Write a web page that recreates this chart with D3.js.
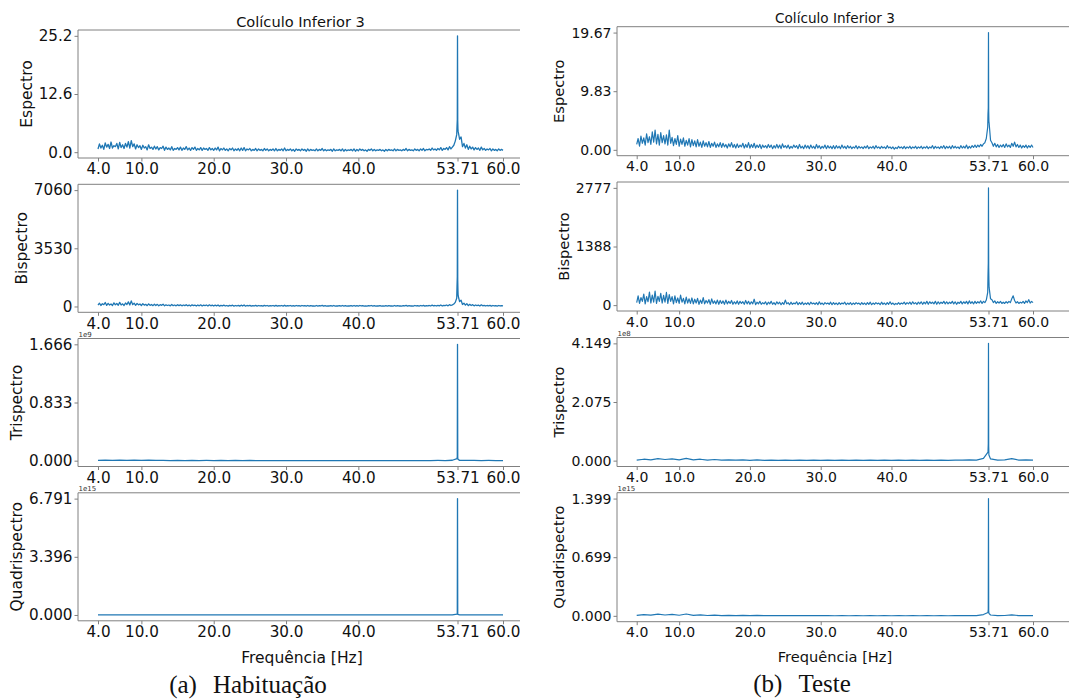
<!DOCTYPE html>
<html><head><meta charset="utf-8">
<script src="https://cdn.jsdelivr.net/npm/d3@7"></script>
<style>body{margin:0;background:#fff} svg{display:block}</style>
</head><body>
<svg id="chart" width="1069" height="700"></svg>
<script>
// ---------------- DATA ----------------
// Fine grid: 4.0 .. 60.0 Hz, step 0.2 Hz (281 bins)
const fineStart = 4.0, fineStep = 0.2;
// Coarse grid: 4 .. 60 Hz, step 1 Hz (57 bins)
const coarseStart = 4.0, coarseStep = 1.0;
// Extra bins around the 53.71 Hz peak
const peakFreqs = [53.64, 53.68, 53.71, 53.74, 53.77];

const xTicks = [4.0, 10.0, 20.0, 30.0, 40.0, 53.71, 60.0];
const xTickLabels = ["4.0", "10.0", "20.0", "30.0", "40.0", "53.71", "60.0"];

// (a) Habituação
const espectroHab = [
  0.7,1.8,0.9,1.5,0.6,2.0,1.1,1.7,0.8,2.2,0.9,1.4,1.2,1.9,0.7,2.1,1.0,1.6,0.8,1.9,
  1.1,2.3,0.9,2.5,1.2,1.8,0.7,1.6,1.0,1.4,0.6,1.5,0.9,1.2,0.5,1.6,0.8,1.1,0.6,1.3,
  0.7,1.2,0.5,1.0,0.8,1.3,0.4,1.1,0.6,0.9,0.5,1.2,0.4,0.8,0.6,1.0,0.5,1.1,0.4,0.9,
  0.6,1.2,0.5,0.9,0.4,1.0,0.6,1.1,0.4,0.8,0.5,1.0,0.4,0.9,0.6,0.8,0.4,1.0,0.5,0.8,
  0.4,0.9,0.5,1.1,0.3,0.8,0.5,0.9,0.4,0.7,0.3,0.8,0.5,0.9,0.3,0.7,0.4,0.8,0.3,0.9,
  0.4,1.0,0.3,0.7,0.5,0.8,0.3,0.6,0.4,0.8,0.3,0.7,0.4,0.6,0.3,0.8,0.4,0.7,0.3,0.6,
  0.4,0.7,0.3,0.8,0.3,0.6,0.4,0.7,0.3,0.9,0.3,0.6,0.4,0.7,0.3,0.6,0.2,0.7,0.4,0.6,
  0.3,0.7,0.4,0.6,0.2,0.7,0.3,0.6,0.4,0.5,0.3,0.7,0.3,0.6,0.4,0.8,0.3,0.6,0.3,0.5,
  0.4,0.6,0.2,0.7,0.3,0.5,0.4,0.6,0.3,0.7,0.2,0.6,0.3,0.5,0.4,0.6,0.3,0.7,0.2,0.6,
  0.3,0.7,0.4,0.6,0.3,0.5,0.2,0.6,0.4,0.7,0.3,0.6,0.3,0.5,0.4,0.6,0.3,0.5,0.2,0.6,
  0.3,0.6,0.4,0.5,0.3,0.7,0.3,0.6,0.4,0.5,0.3,0.6,0.4,0.8,0.3,0.6,0.4,0.5,0.3,0.7,
  0.4,0.6,0.3,0.7,0.4,0.8,0.3,0.6,0.5,0.7,0.4,0.9,0.5,0.7,0.4,0.8,0.5,1.0,0.4,0.8,
  0.6,1.0,0.5,1.2,0.7,1.1,1.5,2.4,3.8,4.5,2.8,3.3,1.2,1.9,0.9,1.6,0.6,1.3,0.7,1.1,
  0.5,1.0,0.6,0.9,0.4,1.1,0.5,0.8,0.4,0.7,0.5,0.8,0.3,0.7,0.4,0.6,0.3,0.7,0.4,0.6,
  0.4];
const espectroHabPeak = [5.5, 7.0, 25.2, 6.8, 5.0];

const bispectroHab = [
  80,200,60,170,110,240,70,190,90,150,60,220,100,180,70,250,90,160,60,210,
  120,280,90,340,110,200,70,180,100,150,60,170,80,130,50,160,70,120,50,140,
  60,130,40,110,70,140,40,100,60,90,40,120,50,90,40,110,50,100,40,90,
  50,110,40,90,30,100,50,80,30,90,40,100,30,80,50,90,30,100,40,80,
  30,80,40,90,20,70,40,80,30,60,20,70,40,80,20,60,30,70,20,80,
  30,90,20,60,40,70,20,50,30,70,20,60,30,50,20,70,30,60,20,50,
  30,60,20,70,20,50,30,60,20,80,20,50,30,60,20,50,20,60,30,50,
  20,60,30,50,20,60,20,50,30,40,20,60,20,50,30,70,20,50,20,40,
  30,50,20,60,20,40,30,50,20,60,20,50,20,40,30,50,20,60,20,50,
  20,60,30,50,20,40,20,50,30,60,20,50,20,40,30,50,20,40,20,50,
  20,50,30,40,20,60,20,50,30,40,20,50,30,70,20,50,30,40,20,60,
  30,50,20,60,30,70,20,50,40,60,30,80,40,60,30,70,40,90,30,70,
  50,90,40,110,60,100,150,250,500,650,300,380,120,200,80,170,50,130,60,110,
  40,90,50,80,30,100,40,70,30,60,40,70,20,60,30,50,20,60,30,50,
  30];
const bispectroHabPeak = [1200, 1800, 7060, 1600, 1000];

// Trispectro in units of 1e9
const trispectroHab = [
  0.004,0.008,0.003,0.007,0.004,0.009,0.003,0.006,0.003,0.005,
  0.002,0.004,0.002,0.004,0.002,0.003,0.002,0.003,0.001,0.003,
  0.001,0.003,0.001,0.002,0.001,0.002,0.001,0.002,0.001,0.002,
  0.001,0.002,0.001,0.002,0.001,0.002,0.001,0.002,0.001,0.002,
  0.001,0.002,0.001,0.002,0.001,0.002,0.002,0.003,0.002,0.006,
  0.005,0.003,0.004,0.002,0.003,0.002,0.002];
const trispectroHabPeak = [0.03, 0.06, 1.666, 0.05, 0.02];

// Quadrispectro in units of 1e15
const quadrispectroHab = [
  0.003,0.008,0.002,0.006,0.003,0.009,0.002,0.005,0.002,0.004,
  0.001,0.003,0.001,0.003,0.001,0.002,0.001,0.002,0.001,0.002,
  0.001,0.002,0.001,0.002,0.001,0.002,0.001,0.002,0.001,0.002,
  0.001,0.002,0.001,0.002,0.001,0.002,0.001,0.002,0.001,0.002,
  0.001,0.002,0.001,0.002,0.001,0.002,0.001,0.002,0.002,0.008,
  0.006,0.002,0.003,0.001,0.002,0.001,0.001];
const quadrispectroHabPeak = [0.05, 0.1, 6.791, 0.08, 0.03];

// (b) Teste
const espectroTeste = [
  0.9,1.9,0.6,2.3,1.1,2.0,0.8,2.7,1.2,2.2,0.9,3.0,1.3,3.3,1.0,2.6,0.8,2.9,1.2,2.4,
  1.0,2.5,0.8,3.3,1.1,2.1,0.7,1.9,0.9,2.4,0.6,1.8,0.9,2.0,0.6,1.6,0.8,1.9,0.5,1.7,
  0.7,1.5,0.5,1.7,0.6,1.3,0.4,1.5,0.6,1.2,0.5,1.4,0.4,1.1,0.6,1.3,0.4,1.0,0.5,1.2,
  0.4,1.1,0.5,0.9,0.3,1.0,0.5,1.2,0.4,0.9,0.3,1.0,0.4,0.8,0.5,1.1,0.3,0.9,0.4,1.2,
  0.3,0.9,0.4,1.1,0.3,0.8,0.4,0.9,0.2,0.8,0.4,0.7,0.3,0.9,0.4,0.8,0.2,0.7,0.3,0.9,
  0.3,0.8,0.2,1.0,0.4,0.7,0.3,0.8,0.2,0.6,0.3,0.8,0.4,0.7,0.2,0.9,0.3,0.6,0.2,0.8,
  0.3,0.7,0.2,0.8,0.3,0.6,0.2,0.9,0.3,0.7,0.2,0.6,0.3,0.8,0.2,0.7,0.3,0.6,0.2,0.7,
  0.2,0.7,0.3,0.6,0.2,0.8,0.3,0.6,0.2,0.7,0.3,0.6,0.2,0.5,0.3,0.7,0.2,0.6,0.3,0.5,
  0.2,0.6,0.3,0.7,0.2,0.5,0.3,0.6,0.2,0.7,0.3,0.5,0.2,0.6,0.3,0.5,0.2,0.7,0.3,0.5,
  0.2,0.5,0.1,0.4,0.2,0.6,0.3,0.5,0.2,0.6,0.2,0.5,0.3,0.6,0.2,0.5,0.3,0.6,0.2,0.5,
  0.3,0.6,0.2,0.5,0.3,0.6,0.2,0.5,0.3,0.7,0.2,0.6,0.3,0.5,0.2,0.6,0.3,0.7,0.2,0.6,
  0.3,0.6,0.2,0.7,0.3,0.6,0.3,0.5,0.2,0.7,0.3,0.6,0.3,0.8,0.2,0.6,0.3,0.7,0.4,0.8,
  0.4,0.8,0.5,0.9,0.6,1.0,1.2,1.9,3.8,4.5,1.6,1.2,0.6,1.1,0.5,0.9,0.4,0.8,0.5,0.9,
  0.4,1.0,0.5,0.8,0.4,1.1,0.6,1.3,0.5,0.9,0.4,0.8,0.3,0.7,0.4,0.8,0.3,0.7,0.4,0.8,
  0.4];
const espectroTestePeak = [6.0, 7.0, 19.67, 6.5, 4.8];

const bispectroTeste = [
  60,220,40,180,90,260,30,200,80,310,50,240,70,330,40,210,90,280,50,230,
  70,300,40,250,90,200,30,220,60,170,40,240,70,160,30,190,50,150,40,170,
  30,140,50,160,20,120,40,180,30,110,50,130,20,150,40,100,30,120,20,110,
  40,100,20,120,30,90,40,110,20,80,30,100,20,90,40,80,20,110,30,90,
  20,80,30,140,10,70,30,90,20,60,30,80,10,70,30,90,20,60,10,80,
  30,70,10,60,20,120,30,60,10,70,20,50,30,80,10,60,20,70,10,50,
  20,60,10,70,30,50,20,60,10,80,20,50,10,60,30,50,20,70,10,60,
  20,50,10,60,20,50,30,70,10,50,20,60,10,50,20,60,30,50,10,60,
  20,50,10,60,20,70,10,50,20,60,30,50,10,70,20,50,10,60,20,80,
  20,50,10,40,20,60,20,50,30,70,20,60,30,70,20,80,30,60,20,70,
  30,80,20,70,30,90,20,80,40,70,30,90,20,80,30,70,40,90,30,80,
  30,70,40,90,30,80,20,70,40,90,30,80,40,90,30,100,40,80,30,90,
  40,80,50,100,40,90,60,120,300,420,150,130,60,100,40,80,50,90,40,70,
  40,80,50,90,60,150,220,110,50,80,40,70,50,90,40,100,60,130,50,90,
  60];
const bispectroTestePeak = [700, 1000, 2777, 900, 600];

// Trispectro in units of 1e8
const trispectroTeste = [
  0.02,0.05,0.03,0.07,0.04,0.06,0.03,0.08,0.03,0.05,
  0.02,0.04,0.02,0.03,0.02,0.03,0.01,0.03,0.01,0.02,
  0.01,0.02,0.01,0.02,0.01,0.02,0.01,0.02,0.01,0.02,
  0.01,0.02,0.01,0.02,0.01,0.02,0.01,0.02,0.01,0.02,
  0.01,0.02,0.01,0.02,0.01,0.02,0.02,0.03,0.02,0.08,
  0.06,0.02,0.03,0.07,0.02,0.03,0.02];
const trispectroTestePeak = [0.3, 0.6, 4.149, 0.5, 0.2];

// Quadrispectro in units of 1e15
const quadrispectroTeste = [
  0.005,0.015,0.008,0.02,0.01,0.018,0.007,0.022,0.006,0.012,
  0.004,0.008,0.003,0.006,0.003,0.005,0.002,0.005,0.002,0.004,
  0.002,0.004,0.002,0.003,0.002,0.003,0.002,0.003,0.001,0.003,
  0.001,0.003,0.001,0.003,0.001,0.003,0.001,0.003,0.001,0.003,
  0.001,0.003,0.001,0.003,0.001,0.003,0.002,0.004,0.002,0.015,
  0.01,0.003,0.004,0.012,0.003,0.004,0.003];
const quadrispectroTestePeak = [0.04, 0.08, 1.399, 0.06, 0.03];

// Y tick values and labels
const espectroHabTicks = [0, 12.6, 25.2],      espectroHabLabels = ["0.0", "12.6", "25.2"];
const bispectroHabTicks = [0, 3530, 7060],     bispectroHabLabels = ["0", "3530", "7060"];
const trispectroHabTicks = [0, 0.833, 1.666],  trispectroHabLabels = ["0.000", "0.833", "1.666"];
const quadrispectroHabTicks = [0, 3.3955, 6.791], quadrispectroHabLabels = ["0.000", "3.396", "6.791"];
const espectroTesteTicks = [0, 9.835, 19.67],  espectroTesteLabels = ["0.00", "9.83", "19.67"];
const bispectroTesteTicks = [0, 1388.5, 2777], bispectroTesteLabels = ["0", "1388", "2777"];
const trispectroTesteTicks = [0, 2.0745, 4.149], trispectroTesteLabels = ["0.000", "2.075", "4.149"];
const quadrispectroTesteTicks = [0, 0.6995, 1.399], quadrispectroTesteLabels = ["0.000", "0.699", "1.399"];

const rowLabels = ["Espectro", "Bispectro", "Trispectro", "Quadrispectro"];
const titleText = "Colículo Inferior 3";
const xLabelText = "Frequência [Hz]";
const captionLetters = ["(a)", "(b)"];
const captionWords = ["Habituação", "Teste"];
const offsetHab = [null, null, "1e9", "1e15"];
const offsetTeste = [null, null, "1e8", "1e15"];

// ---------------- LAYOUT ----------------
const FONT = "'DejaVu Sans', sans-serif";
const BLUE = "#1f77b4";
const SPINE = "#808080";

const columns = [
  { left: 78, x0: 98, x1: 503, clipX: 0, clipRight: 520,
    tops: [30, 184.3, 338.5, 492.8], h: 128,
    tickFont: 15.2, labelFont: 15.5, titleFont: 14.6,
    titleX: 300.5, titleY: 26.5, xlabelX: 302, xlabelY: 663,
    captionX: 248, captionY: 693, lineW: 1.3,
    series: [
      [espectroHab, fineStep, espectroHabPeak, espectroHabTicks, espectroHabLabels],
      [bispectroHab, fineStep, bispectroHabPeak, bispectroHabTicks, bispectroHabLabels],
      [trispectroHab, coarseStep, trispectroHabPeak, trispectroHabTicks, trispectroHabLabels],
      [quadrispectroHab, coarseStep, quadrispectroHabPeak, quadrispectroHabTicks, quadrispectroHabLabels]
    ], offsets: offsetHab },
  { left: 617, x0: 636.7, x1: 1033, clipX: 530, clipRight: 1069,
    tops: [26.7, 182, 337.5, 492.7], h: 129,
    tickFont: 14.0, labelFont: 14.6, titleFont: 13.6,
    titleX: 835, titleY: 23.3, xlabelX: 835, xlabelY: 662,
    captionX: 802, captionY: 692, lineW: 1.2,
    series: [
      [espectroTeste, fineStep, espectroTestePeak, espectroTesteTicks, espectroTesteLabels],
      [bispectroTeste, fineStep, bispectroTestePeak, bispectroTesteTicks, bispectroTesteLabels],
      [trispectroTeste, coarseStep, trispectroTestePeak, trispectroTesteTicks, trispectroTesteLabels],
      [quadrispectroTeste, coarseStep, quadrispectroTestePeak, quadrispectroTesteTicks, quadrispectroTesteLabels]
    ], offsets: offsetTeste }
];

const svg = d3.select("#chart");
const defs = svg.append("defs");

columns.forEach((c, ci) => {
  defs.append("clipPath").attr("id", "clipcol" + ci)
    .append("rect").attr("x", c.clipX).attr("y", 0)
    .attr("width", c.clipRight - c.clipX).attr("height", 700);
  const g = svg.append("g").attr("clip-path", `url(#clipcol${ci})`);

  const x = d3.scaleLinear().domain([4, 60]).range([c.x0, c.x1]);

  c.series.forEach((s, ri) => {
    const [vals, step, peak, ticks, labels] = s;
    const start = step === fineStep ? fineStart : coarseStart;
    const top = c.tops[ri], bottom = top + c.h;
    const ymax = ticks[ticks.length - 1];
    const y = d3.scaleLinear().domain([-0.05 * ymax, 1.05 * ymax]).range([bottom, top]);

    const pts = vals.map((v, i) => [start + i * step, v])
      .concat(peakFreqs.map((f, i) => [f, peak[i]]))
      .sort((a, b) => a[0] - b[0]);

    g.append("path").datum(pts)
      .attr("fill", "none").attr("stroke", BLUE)
      .attr("stroke-width", c.lineW).attr("stroke-linejoin", "round")
      .attr("d", d3.line().x(d => x(d[0])).y(d => y(d[1])));

    // spines (left, top, bottom; right side cropped)
    const sp = g.append("g").attr("stroke", SPINE).attr("stroke-width", 1);
    sp.append("line").attr("x1", c.left).attr("x2", c.left).attr("y1", top).attr("y2", bottom);
    sp.append("line").attr("x1", c.left).attr("x2", c.clipRight + 5).attr("y1", top).attr("y2", top);
    sp.append("line").attr("x1", c.left).attr("x2", c.clipRight + 5).attr("y1", bottom).attr("y2", bottom);

    // x axis
    const xa = g.append("g").attr("transform", `translate(0,${bottom})`)
      .call(d3.axisBottom(x).tickValues(xTicks)
        .tickFormat((d, i) => xTickLabels[i]).tickSize(3.5).tickPadding(2.2));
    xa.select(".domain").remove();
    xa.selectAll("line").attr("stroke", SPINE);
    xa.selectAll("text").attr("font-family", FONT).attr("font-size", c.tickFont).attr("fill", "#111");

    // y axis
    const ya = g.append("g").attr("transform", `translate(${c.left},0)`)
      .call(d3.axisLeft(y).tickValues(ticks)
        .tickFormat((d, i) => labels[i]).tickSize(3.5).tickPadding(2));
    ya.select(".domain").remove();
    ya.selectAll("line").attr("stroke", SPINE);
    ya.selectAll("text").attr("font-family", FONT).attr("font-size", c.tickFont).attr("fill", "#111");

    let maxW = 0;
    ya.selectAll("text").each(function () { maxW = Math.max(maxW, this.getComputedTextLength()); });
    const tickLeft = c.left - 5.5 - maxW;
    const descent = 0.236 * c.labelFont;
    const bx = tickLeft - 3.5 - descent;
    g.append("text")
      .attr("transform", `translate(${bx},${top + c.h / 2}) rotate(-90)`)
      .attr("text-anchor", "middle")
      .attr("font-family", FONT).attr("font-size", c.labelFont).attr("fill", "#111")
      .text(rowLabels[ri]);

    // offset text (scientific multiplier)
    if (c.offsets[ri]) {
      g.append("text").attr("x", c.left + 0.5).attr("y", top - 1.8)
        .attr("font-family", FONT).attr("font-size", 7).attr("fill", "#333")
        .text(c.offsets[ri]);
    }

    if (ri === 0) {
      g.append("text").attr("x", c.titleX).attr("y", c.titleY)
        .attr("text-anchor", "middle").attr("font-family", FONT)
        .attr("font-size", c.titleFont).attr("fill", "#111").text(titleText);
    }
    if (ri === 3) {
      g.append("text").attr("x", c.xlabelX).attr("y", c.xlabelY)
        .attr("text-anchor", "middle").attr("font-family", FONT)
        .attr("font-size", c.labelFont).attr("fill", "#111").text(xLabelText);
    }
  });

  // caption
  const cap = svg.append("text").attr("x", c.captionX).attr("y", c.captionY)
    .attr("text-anchor", "middle")
    .attr("font-family", "'Liberation Serif', 'DejaVu Serif', serif")
    .attr("font-size", 25).attr("fill", "#111");
  cap.append("tspan").text(captionLetters[ci]);
  cap.append("tspan").attr("dx", 16).text(captionWords[ci]);
});
</script>
</body></html>
